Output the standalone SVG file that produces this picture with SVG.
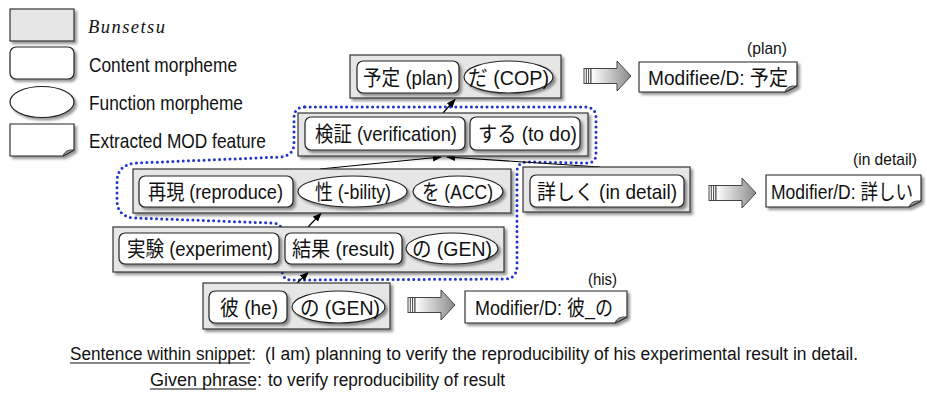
<svg xmlns="http://www.w3.org/2000/svg" width="927" height="396" viewBox="0 0 927 396">
<style>
.b{fill:#e6e6e6;stroke:#333;stroke-width:1.2}
.c{fill:#fff;stroke:#222;stroke-width:1.2}
.f{fill:#fff;stroke:#222;stroke-width:1.1}
.fold{fill:#9a9a9a;stroke:#222;stroke-width:0.8}
.t{font-family:"Liberation Sans","Noto Sans CJK JP",sans-serif;font-size:21px;fill:#111}
.s{font-family:"Liberation Sans","Noto Sans CJK JP",sans-serif;font-size:17px;fill:#111}
.cap{font-family:"Liberation Sans",sans-serif;font-size:18px;fill:#111}
.ul{stroke:#111;stroke-width:1.2}
.con{stroke:#000;stroke-width:1.2;fill:none;marker-end:url(#ah)}
.dot{fill:none;stroke:#2233cc;stroke-width:3;stroke-linecap:round;stroke-dasharray:0 5.2}
.sh{filter:url(#sh)}
.ba{fill:url(#g);stroke:#444;stroke-width:1}
</style>
<defs>
<filter id="sh" x="-10%" y="-10%" width="130%" height="150%">
<feDropShadow dx="2.5" dy="2.5" stdDeviation="1" flood-color="#000" flood-opacity="0.4"/>
</filter>
<linearGradient id="g" x1="0" y1="0" x2="1" y2="0">
<stop offset="0" stop-color="#ffffff"/>
<stop offset="1" stop-color="#8a8a8a"/>
</linearGradient>
<marker id="ah" viewBox="0 0 10 10" refX="9" refY="5" markerWidth="9" markerHeight="9" orient="auto" markerUnits="userSpaceOnUse">
<path d="M0,1 L10,5 L0,9 Z" fill="#000"/>
</marker>
<g id="blk">
<rect x="0" y="-7.5" width="7" height="15" fill="#fff" stroke="#444" stroke-width="1"/>
<line x1="2.3" y1="-7.5" x2="2.3" y2="7.5" stroke="#444" stroke-width="1"/>
<line x1="4.6" y1="-7.5" x2="4.6" y2="7.5" stroke="#444" stroke-width="1"/>
<path class="ba" d="M7,-7.5 H33 V-15 L47,0 L33,15 V7.5 H7 Z"/>
</g>
</defs>

<g id="legend">
<g id="leg-bunsetsu"><rect class="b sh" x="10" y="9" width="64" height="32"/>
<text x="88" y="33" font-family="Liberation Serif,serif" font-style="italic" font-size="18.5" fill="#111" textLength="77" lengthAdjust="spacing">Bunsetsu</text></g>
<g id="leg-content"><rect class="c sh" x="10" y="47" width="64" height="32" rx="6"/>
<text class="t" x="89" y="72" textLength="148" lengthAdjust="spacingAndGlyphs">Content morpheme</text></g>
<g id="leg-function"><ellipse class="c sh" cx="42" cy="102" rx="32" ry="15.5"/>
<text class="t" x="89" y="110" textLength="154" lengthAdjust="spacingAndGlyphs">Function morpheme</text></g>
<g id="leg-feature"><path class="f sh" d="M10,124 H74 V150 Q69,153 63,156 H10 Z"/><path class="fold" d="M63,156 Q65,149 74,150 Z"/>
<text class="t" x="89" y="148" textLength="177" lengthAdjust="spacingAndGlyphs">Extracted MOD feature</text></g>
</g>

<g id="outline"><path class="dot" d="M305,107 L585,107 Q596,107 596,118 L596,154 Q596,163 586,163 L528,162 Q517,162 517,172 L517,266 Q517,279 504,279 L292,280 Q282,280 282,270 L282,232 Q282,223 272,223 L135,218 Q117,217 117,200 L117,182 Q117,164 137,163 L280,157 Q294,156 294,143 L294,118 Q294,107 305,107 Z"/></g>

<g id="connectors">
<line class="con" x1="443" y1="113" x2="455" y2="99.5"/>
<line class="con" x1="320" y1="169" x2="441" y2="157"/>
<line class="con" x1="600" y1="167" x2="447" y2="157"/>
<line class="con" x1="308" y1="227" x2="321" y2="213.5"/>
<line class="con" x1="297" y1="283" x2="308" y2="272.5"/>
</g>

<g id="n-yotei">
<rect class="b sh" x="350" y="55" width="211" height="43"/>
<g id="m-yotei"><rect class="c sh" x="357" y="61" width="102" height="32" rx="6"/>
<text class="t" x="363" y="84.5" textLength="90" lengthAdjust="spacingAndGlyphs">予定 (plan)</text></g>
<g id="m-da"><ellipse class="c sh" cx="508.5" cy="77" rx="44.5" ry="16"/>
<text class="t" x="468" y="84.5" textLength="81" lengthAdjust="spacingAndGlyphs">だ (COP)</text></g>
</g>

<g id="n-kensho">
<rect class="b sh" x="298" y="113" width="290" height="43"/>
<g id="m-kensho"><rect class="c sh" x="305" y="117" width="160" height="33" rx="6"/>
<text class="t" x="315" y="141" textLength="142" lengthAdjust="spacingAndGlyphs">検証 (verification)</text></g>
<g id="m-suru"><rect class="c sh" x="470" y="117" width="110" height="33" rx="6"/>
<text class="t" x="478" y="141" textLength="99" lengthAdjust="spacingAndGlyphs">する (to do)</text></g>
</g>

<g id="n-saigen">
<rect class="b sh" x="133" y="169" width="378" height="44"/>
<g id="m-saigen"><rect class="c sh" x="139" y="176" width="154" height="31" rx="6"/>
<text class="t" x="148" y="199" textLength="135" lengthAdjust="spacingAndGlyphs">再現 (reproduce)</text></g>
<g id="m-sei"><ellipse class="c sh" cx="352.5" cy="191.5" rx="54.5" ry="15.5"/>
<text class="t" x="315" y="199" textLength="76" lengthAdjust="spacingAndGlyphs">性 (-bility)</text></g>
<g id="m-wo"><ellipse class="c sh" cx="458" cy="191.5" rx="45" ry="15.5"/>
<text class="t" x="422" y="199" textLength="71" lengthAdjust="spacingAndGlyphs">を (ACC)</text></g>
</g>

<g id="n-jikken">
<rect class="b sh" x="113" y="227" width="391" height="45"/>
<g id="m-jikken"><rect class="c sh" x="119" y="233" width="160" height="31" rx="6"/>
<text class="t" x="127" y="256" textLength="146" lengthAdjust="spacingAndGlyphs">実験 (experiment)</text></g>
<g id="m-kekka"><rect class="c sh" x="285" y="233" width="117" height="31" rx="6"/>
<text class="t" x="292" y="256" textLength="103" lengthAdjust="spacingAndGlyphs">結果 (result)</text></g>
<g id="m-no1"><ellipse class="c sh" cx="452" cy="248.5" rx="46" ry="15.5"/>
<text class="t" x="412" y="256" textLength="80" lengthAdjust="spacingAndGlyphs">の (GEN)</text></g>
</g>

<g id="n-kare">
<rect class="b sh" x="203" y="283" width="187" height="46"/>
<g id="m-kare"><rect class="c sh" x="209" y="291" width="78" height="32" rx="6"/>
<text class="t" x="220" y="314.5" textLength="58" lengthAdjust="spacingAndGlyphs">彼 (he)</text></g>
<g id="m-no2"><ellipse class="c sh" cx="338.5" cy="307" rx="46.5" ry="16"/>
<text class="t" x="300" y="314.5" textLength="80" lengthAdjust="spacingAndGlyphs">の (GEN)</text></g>
</g>

<g id="n-kuwashiku">
<rect class="b sh" x="523" y="167" width="167" height="45"/>
<g id="m-kuwashiku"><rect class="c sh" x="530" y="175" width="154" height="32" rx="6"/>
<text class="t" x="537" y="199" textLength="140" lengthAdjust="spacingAndGlyphs">詳しく (in detail)</text></g>
</g>

<g id="block-arrows">
<use href="#blk" x="584" y="76"/>
<use href="#blk" x="709" y="193"/>
<use href="#blk" x="408" y="305"/>
</g>

<g id="f-modifiee">
<path class="f sh" d="M639,62 H797 V86 Q792,89 785,92 H639 Z"/><path class="fold" d="M785,92 Q787,85 797,86 Z"/>
<text class="t" x="648" y="84.5" textLength="140" lengthAdjust="spacingAndGlyphs">Modifiee/D: 予定</text>
<text class="s" x="747" y="54" textLength="40" lengthAdjust="spacingAndGlyphs">(plan)</text>
</g>
<g id="f-kuwashii">
<path class="f sh" d="M766,175 H921 V201 Q916,204 909,207 H766 Z"/><path class="fold" d="M909,207 Q911,200 921,201 Z"/>
<text class="t" x="771" y="198.5" font-size="20" textLength="142" lengthAdjust="spacingAndGlyphs">Modifier/D: 詳しい</text>
<text class="s" x="853" y="165" textLength="64" lengthAdjust="spacingAndGlyphs">(in detail)</text>
</g>
<g id="f-kareno">
<path class="f sh" d="M465,291 H627 V317 Q622,320 615,323 H465 Z"/><path class="fold" d="M615,323 Q617,316 627,317 Z"/>
<text class="t" x="475" y="314.5" textLength="138" lengthAdjust="spacingAndGlyphs">Modifier/D: 彼_の</text>
<text class="s" x="588" y="285" textLength="29" lengthAdjust="spacingAndGlyphs">(his)</text>
</g>

<g id="caption">
<text class="cap" x="70" y="360" textLength="186" lengthAdjust="spacingAndGlyphs">Sentence within snippet:</text>
<line class="ul" x1="70" y1="363" x2="250" y2="363"/>
<text class="cap" x="265" y="360" textLength="593" lengthAdjust="spacingAndGlyphs">(I am) planning to verify the reproducibility of his experimental result in detail.</text>
<text class="cap" x="150" y="386" textLength="112" lengthAdjust="spacingAndGlyphs">Given phrase:</text>
<line class="ul" x1="150" y1="389" x2="256" y2="389"/>
<text class="cap" x="268" y="386" textLength="237" lengthAdjust="spacingAndGlyphs">to verify reproducibility of result</text>
</g>
</svg>
